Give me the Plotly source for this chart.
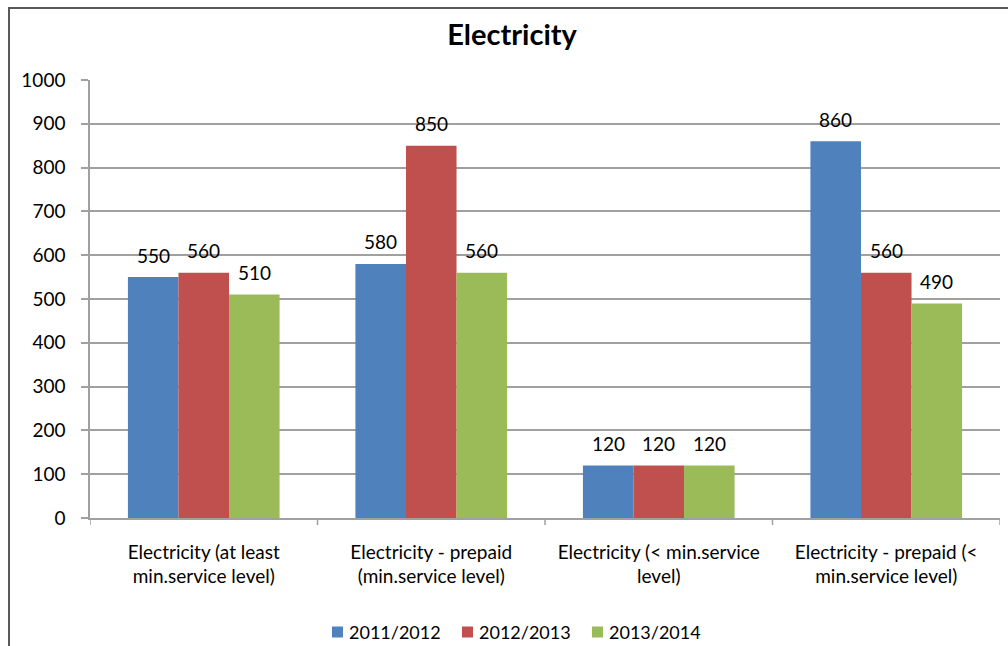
import plotly.graph_objects as go

categories = [
    "Electricity (at least<br>min.service level)",
    "Electricity - prepaid<br>(min.service level)",
    "Electricity (< min.service<br>level)",
    "Electricity - prepaid (<<br>min.service level)",
]
series_names = ["2011/2012", "2012/2013", "2013/2014"]
values_2011 = [550, 580, 120, 860]
values_2012 = [560, 850, 120, 560]
values_2013 = [510, 560, 120, 490]
colors = ["#4F81BD", "#C0504D", "#9BBB59"]

all_series = [values_2011, values_2012, values_2013]

FONT = "Lato, 'Open Sans', sans-serif"
GRID = "#a0a0a0"

W, H = 1008, 646
L, R, T, B = 90, 8, 80, 128
pw, ph = W - L - R, H - T - B

fig = go.Figure()
for name, vals, col in zip(series_names, all_series, colors):
    fig.add_trace(go.Bar(
        x=list(range(len(categories))), y=vals, name=name,
        marker=dict(color=col, line=dict(width=0)), showlegend=False,
    ))

# value labels above each bar (bar slot width = group width / 3)
bargap = 1 / 3
slot = (1 - bargap) / 3
for i, vals in enumerate(all_series):
    for j, v in enumerate(vals):
        fig.add_annotation(
            x=j + (i - 1) * slot, y=v, text=str(v), showarrow=False,
            xref="x", yref="y", yanchor="middle", yshift=22,
            font=dict(family=FONT, size=19, color="#000000"),
        )

# outer chart frame
fig.add_shape(
    type="rect", xref="paper", yref="paper",
    x0=(9 - L) / pw, x1=(W + 10 - L) / pw,
    y0=-(B + 10) / ph, y1=(H - B - 8) / ph,
    line=dict(color="#595959", width=2), fillcolor="rgba(0,0,0,0)", layer="below",
)

# legend drawn as swatches + labels along the bottom
legend_y = -(632 - (H - B)) / ph
swatch_px = [332, 462, 592]
for name, col, sx in zip(series_names, colors, swatch_px):
    fig.add_shape(type="rect", xref="paper", yref="paper",
                  x0=(sx - L) / pw, x1=(sx + 11 - L) / pw,
                  y0=legend_y - 5.5 / ph, y1=legend_y + 5.5 / ph,
                  line=dict(width=0), fillcolor=col)
    fig.add_annotation(x=(sx + 15 - L) / pw, y=legend_y, xref="paper", yref="paper",
                       text=name, showarrow=False, xanchor="left", yanchor="middle",
                       font=dict(family=FONT, size=18, color="#000000"))

# category boundary ticks on the x axis
for k in range(len(categories) + 1):
    fig.add_shape(type="line", xref="x", yref="paper",
                  x0=k - 0.5, x1=k - 0.5, y0=0, y1=-7 / ph,
                  line=dict(color=GRID, width=1.5))

fig.update_layout(
    width=W, height=H,
    margin=dict(l=L, r=R, t=T, b=B, autoexpand=False),
    paper_bgcolor="white", plot_bgcolor="white",
    barmode="group", bargap=bargap, bargroupgap=0,
    title=dict(text="<b>Electricity</b>", x=512 / W, xanchor="center",
               y=1 - 35 / H, yanchor="middle",
               font=dict(family=FONT, size=29, color="#000000")),
    font=dict(family=FONT, size=19, color="#000000"),
    showlegend=False,
    xaxis=dict(
        tickmode="array", tickvals=list(range(len(categories))), ticktext=categories,
        range=[-0.5, len(categories) - 0.5], automargin=False,
        showline=True, linecolor=GRID, linewidth=1.5,
        ticks="", showgrid=False, zeroline=False, ticklabelstandoff=16,
        tickfont=dict(family=FONT, size=19, color="#000000"),
    ),
    yaxis=dict(
        range=[0, 1000], tickvals=list(range(0, 1001, 100)), automargin=False,
        showline=True, linecolor=GRID, linewidth=1.5,
        ticks="outside", ticklen=7, tickcolor=GRID, tickwidth=1.5,
        showgrid=True, gridcolor=GRID, gridwidth=1.5,
        zeroline=False, ticklabelstandoff=12,
        tickfont=dict(family=FONT, size=19, color="#000000"),
    ),
)

fig.write_html("out.html")
